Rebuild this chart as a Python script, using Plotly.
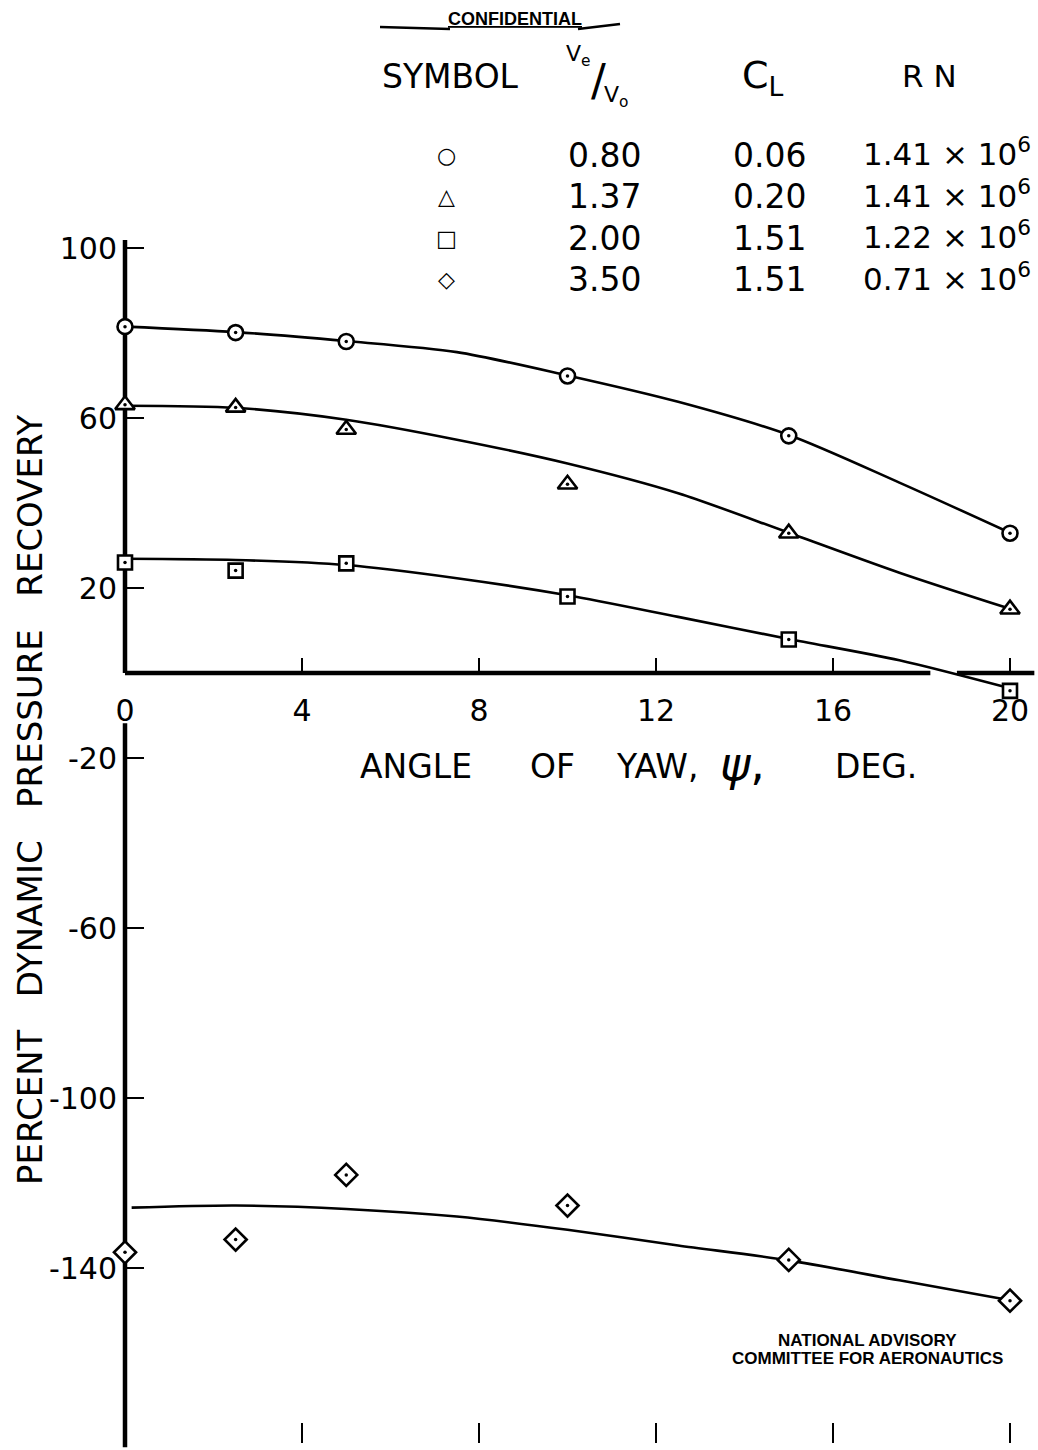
import plotly.graph_objects as go

# ---------------- data ----------------
yaw_deg = [0, 2.5, 5, 10, 15, 20]
recovery_circle = [81.5, 80.1, 78.0, 69.9, 55.8, 32.9]      # Ve/V0 = 0.80
recovery_triangle = [63.1, 62.5, 57.3, 44.4, 32.9, 15.0]    # Ve/V0 = 1.37
recovery_square = [26.0, 24.1, 25.8, 18.0, 7.9, -4.2]       # Ve/V0 = 2.00
recovery_diamond = [-136.3, -133.3, -118.1, -125.3, -138.1, -147.7]  # Ve/V0 = 3.50

# faired curves
fair_x = [0, 2.5, 5, 7.5, 10, 12.5, 15, 17.5, 20]
fair_circle = [81.5, 80.2, 78.1, 75.5, 70.0, 63.8, 56.0, 44.8, 33.0]
fair_triangle = [62.9, 62.4, 59.6, 54.9, 49.3, 42.3, 33.0, 23.6, 15.1]
fair_square = [26.9, 26.6, 25.4, 22.3, 18.3, 13.2, 8.0, 3.0, -3.6]
fair_diamond_x = [0.15, 2.5, 5, 7.5, 10, 12.5, 15, 17.5, 20]
fair_diamond = [-125.8, -125.3, -126.1, -127.9, -131.0, -134.7, -138.2, -142.9, -147.6]

x_ticks = [0, 4, 8, 12, 16, 20]
y_ticks = [100, 60, 20, -20, -60, -100, -140]
y_ticktext = ["100", "60", "20", "-20", "-60", "-100", "-140"]

legend_symbols = ["○", "△", "□", "◇"]
legend_ratio = ["0.80", "1.37", "2.00", "3.50"]
legend_cl = ["0.06", "0.20", "1.51", "1.51"]
legend_rn = ["1.41 × 10<sup>6</sup>", "1.41 × 10<sup>6</sup>", "1.22 × 10<sup>6</sup>", "0.71 × 10<sup>6</sup>"]

# ---------------- layout geometry ----------------
W, H = 1038, 1450
X0_PX, PX_PER_X = 125, 44.25
Y0_PX, PX_PER_Y = 673, 4.25
x_range = [-X0_PX / PX_PER_X, (W - X0_PX) / PX_PER_X]
y_range = [-(H - Y0_PX) / PX_PER_Y, Y0_PX / PX_PER_Y]

FONT = "DejaVu Sans"
BLACK = "black"

fig = go.Figure()

series = [
    (fair_x, fair_circle, recovery_circle, "circle", 15),
    (fair_x, fair_triangle, recovery_triangle, "triangle-up", 17),
    (fair_x, fair_square, recovery_square, "square", 14),
    (fair_diamond_x, fair_diamond, recovery_diamond, "diamond", 17),
]

for fx, fy, vals, sym, size in series:
    fig.add_trace(go.Scatter(x=fx, y=fy, mode="lines",
                             line=dict(color=BLACK, width=2.6, shape="spline", smoothing=0.8),
                             hoverinfo="skip"))
for fx, fy, vals, sym, size in series:
    fig.add_trace(go.Scatter(x=yaw_deg, y=vals, mode="markers",
                             marker=dict(symbol=sym, size=size, color="white",
                                         line=dict(color=BLACK, width=2.6))))
    fig.add_trace(go.Scatter(x=yaw_deg, y=vals, mode="markers",
                             marker=dict(symbol="circle", size=3.5, color=BLACK),
                             hoverinfo="skip"))

# invisible trace for the bottom tick axis
fig.add_trace(go.Scatter(x=[x_ticks[0]], y=[0], xaxis="x2", mode="markers",
                         marker=dict(opacity=0), hoverinfo="skip"))

pos_x_axis = (H - Y0_PX) / H
fig.update_layout(
    width=W, height=H,
    margin=dict(l=0, r=0, t=0, b=0),
    paper_bgcolor="white", plot_bgcolor="white",
    showlegend=False,
    font=dict(family=FONT, color=BLACK),
    xaxis=dict(range=x_range, anchor="free", position=pos_x_axis,
               showline=False, showgrid=False, zeroline=False,
               tickmode="array", tickvals=x_ticks,
               ticks="inside", ticklen=15, tickwidth=2.2, tickcolor=BLACK,
               ticklabelstandoff=17,
               tickfont=dict(size=30, family=FONT, color=BLACK)),
    xaxis2=dict(range=x_range, overlaying="x", anchor="free", position=7 / H,
                showline=False, showgrid=False, zeroline=False,
                tickmode="array", tickvals=x_ticks[1:],
                ticks="inside", ticklen=20, tickwidth=2.2, tickcolor=BLACK,
                showticklabels=False),
    yaxis=dict(range=y_range, anchor="free", position=X0_PX / W,
               showline=False, showgrid=False, zeroline=False,
               tickmode="array", tickvals=y_ticks, ticktext=y_ticktext,
               ticks="inside", ticklen=18, tickwidth=2.2, tickcolor=BLACK,
               ticklabelstandoff=8,
               tickfont=dict(size=30, family=FONT, color=BLACK)),
)

# axis spines (drawn with the gaps seen in the reference)
spine = dict(color=BLACK, width=4.5)
fig.add_shape(type="line", x0=0, x1=18.2, y0=0, y1=0, line=spine, layer="below")
fig.add_shape(type="line", x0=18.8, x1=20.55, y0=0, y1=0, line=spine, layer="below")
fig.add_shape(type="line", x0=0, x1=0, y0=101.9, y1=0, line=spine, layer="below")
fig.add_shape(type="line", x0=0, x1=0, y0=-11.8, y1=-182.2, line=spine, layer="below")

def px_ann(text, x, y, size, **kw):
    fig.add_annotation(text=text, x=x / W, y=1 - y / H, xref="paper", yref="paper",
                       showarrow=False, xanchor=kw.pop("xanchor", "center"),
                       yanchor=kw.pop("yanchor", "middle"),
                       font=dict(size=size, family=kw.pop("family", FONT), color=BLACK), **kw)

# axis titles
NB = "\u00a0"
px_ann(f"PERCENT{NB*3}DYNAMIC{NB*3}PRESSURE{NB*3}RECOVERY", 30, 800, 34, textangle=-90)
px_ann("ANGLE", 416, 766, 33)
px_ann("OF", 552, 766, 33)
px_ann("YAW,", 657, 766, 33)
px_ann("<i>ψ</i>,", 742, 764, 46)
px_ann("DEG.", 876, 766, 33)

# legend table
px_ann("<b><u>CONFIDENTIAL</u></b>", 515, 19, 18, family="Liberation Sans")
fig.add_shape(type="line", xref="paper", yref="paper", x0=380 / W, x1=450 / W,
              y0=1 - 27 / H, y1=1 - 29 / H, line=dict(color=BLACK, width=2.5))
fig.add_shape(type="line", xref="paper", yref="paper", x0=578 / W, x1=620 / W,
              y0=1 - 29 / H, y1=1 - 24 / H, line=dict(color=BLACK, width=2.5))
px_ann("SYMBOL", 450, 76, 33)
px_ann("V<sub>e</sub>", 578, 56, 22)
px_ann("/", 598, 80, 44)
px_ann("V<sub>o</sub>", 616, 97, 22)
px_ann("C<sub>L</sub>", 763, 78, 38)
px_ann(f"R{NB}N", 929, 76, 31)

row_y = [155, 197, 238, 280]
for i, ry in enumerate(row_y):
    px_ann(legend_symbols[i], 446, ry, 22)
    px_ann(legend_ratio[i], 604, ry, 33)
    px_ann(legend_cl[i], 769, ry, 33)
    px_ann(legend_rn[i], 947, ry - 3, 31)

# NACA stamp
px_ann("<b>NATIONAL ADVISORY</b>", 867, 1340, 17, family="Liberation Sans")
px_ann("<b>COMMITTEE FOR AERONAUTICS</b>", 867, 1358, 17, family="Liberation Sans")

fig.write_html("out.html", config={"displayModeBar": False},
               post_script="document.body.style.margin='0px';")
